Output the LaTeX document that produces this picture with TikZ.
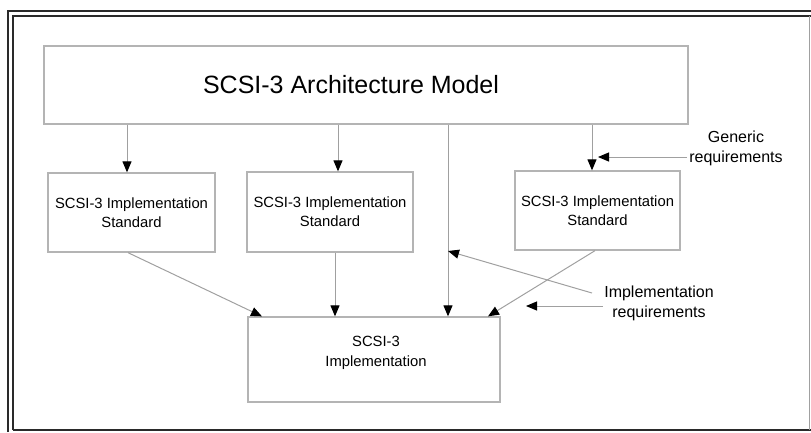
\documentclass[tikz,border=0pt]{standalone}
\usepackage{fontspec}
\setmainfont{Liberation Sans}
\usetikzlibrary{arrows.meta}
\definecolor{boxgray}{HTML}{B4B4B4}
\definecolor{linegray}{HTML}{A0A0A0}
\definecolor{framedark}{HTML}{2A2A2A}
\begin{document}
\begin{tikzpicture}[x=1pt,y=-1pt,
  box/.style={draw=boxgray,line width=1.3pt,rectangle,inner sep=0pt,align=center,
    font=\fontsize{14.8}{19}\selectfont},
  arr/.style={draw=linegray,line width=1pt,-{Triangle[width=9pt,length=11pt,color=black,fill=black]}},
  lbl/.style={align=center,font=\fontsize{16}{20}\selectfont,inner sep=0pt},
  frameline/.style={draw=framedark,line width=2pt}]
\useasboundingbox (0,0) rectangle (811,432);
% outer frame
\draw[frameline] (8,432) -- (8,11) -- (811,11);
\draw[frameline] (13,430) -- (13,16) -- (811,16);
\draw[frameline] (13,430) -- (811,430);
\draw[draw=linegray,line width=1pt] (809,16) -- (809,430);
% boxes
\node[box,minimum width=644pt,minimum height=78pt] (top) at (366,85) {};
\node[font=\fontsize{25}{30}\selectfont] (title) at (351,85) {SCSI-3 Architecture Model};
\node[box,minimum width=167pt,minimum height=79pt] (left) at (131.5,212.5) {SCSI-3 Implementation\\Standard};
\node[box,minimum width=166pt,minimum height=80pt] (mid) at (330,212) {SCSI-3 Implementation\\Standard};
\node[box,minimum width=165pt,minimum height=79pt] (right) at (597.5,210.5) {SCSI-3 Implementation\\Standard};
\node[box,minimum width=252pt,minimum height=85pt] (bot) at (374,359.5) {};
\node[align=center,font=\fontsize{14.8}{20}\selectfont,inner sep=0pt] (bottxt) at (376,353) {SCSI-3\\Implementation};
% labels
\node[lbl] (gen) at (736,148) {Generic\\requirements};
\node[lbl] (impl) at (659,303) {Implementation\\requirements};
% helper coordinates
\coordinate (xa) at (127,0);
\coordinate (xb) at (338,0);
\coordinate (xc) at (448,0);
\coordinate (xd) at (592,0);
\coordinate (xe) at (128,0);
\coordinate (xf) at (262,0);
\coordinate (xg) at (335,0);
\coordinate (xh) at (595,0);
\coordinate (xi) at (488,0);
\coordinate (g0) at (687,157);
\coordinate (g1) at (598,157);
\coordinate (i0) at (592,293);
\coordinate (i1) at (448,251);
\coordinate (i2) at (603,306);
\coordinate (i3) at (526,306);
% arrows from top
\draw[arr] (top.south -| xa) -- (left.north -| xa);
\draw[arr] (top.south -| xb) -- (mid.north -| xb);
\draw[arr] (top.south -| xd) -- (right.north -| xd);
\draw[arr] (top.south -| xc) -- (bot.north -| xc);
% arrows to bottom
\draw[arr] (left.south -| xe) -- (bot.north -| xf);
\draw[arr] (mid.south -| xg) -- (bot.north -| xg);
\draw[arr] (right.south -| xh) -- (bot.north -| xi);
% requirement arrows
\draw[arr] (g0) -- (g1);
\draw[arr] (i0) -- (i1);
\draw[arr] (i2) -- (i3);
\end{tikzpicture}
\end{document}
